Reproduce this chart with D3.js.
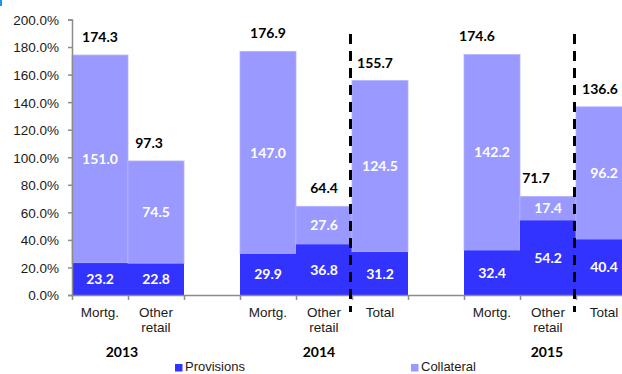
<!DOCTYPE html>
<html>
<head>
<meta charset="utf-8">
<script src="https://cdn.jsdelivr.net/npm/d3@7/dist/d3.min.js"></script>
<style>
  html, body { margin: 0; padding: 0; background: #fff; }
  svg { display: block; }
  .tick text { font-family: "Liberation Sans", Arial, sans-serif; }
</style>
</head>
<body>
<div id="chart"></div>
<script>
// ---- data ----
const slots      = ["2013-M", "2013-O", "gap1", "2014-M", "2014-O", "2014-T", "gap2", "2015-M", "2015-O", "2015-T"];
const slotYears  = ["2013", "2013", null, "2014", "2014", "2014", null, "2015", "2015", "2015"];
const categories = ["Mortg.", "Other\nretail", "", "Mortg.", "Other\nretail", "Total", "", "Mortg.", "Other\nretail", "Total"];
const provisions = [23.2, 22.8, null, 29.9, 36.8, 31.2, null, 32.4, 54.2, 40.4];
const collateral = [151.0, 74.5, null, 147.0, 27.6, 124.5, null, 142.2, 17.4, 96.2];
const totals     = [174.3, 97.3, null, 176.9, 64.4, 155.7, null, 174.6, 71.7, 136.6];
const years      = ["2013", "2014", "2015"];
const yTicks     = [0, 20, 40, 60, 80, 100, 120, 140, 160, 180, 200];
const seriesNames = ["Provisions", "Collateral"];
const dividers   = ["2014-T", "2015-T"]; // a dashed separator sits left of these

// ---- layout ----
const W = 622, H = 374;
const colors = { Provisions: "#3333FF", Collateral: "#9999FF" };
const totalNudge = { "2013-O": -7, "2014-T": -5, "2015-M": -15, "2015-O": -12, "2015-T": -4 };
const yearNudge  = { "2013": -6, "2014": -5, "2015": -1 };
const labelFont  = "Lato, 'Open Sans', sans-serif";
const axisFont   = "'Liberation Sans', Arial, sans-serif";

const svg = d3.select("#chart").append("svg")
  .attr("width", W).attr("height", H);

const x = d3.scaleBand().domain(slots).range([72, 632]).padding(0);
const y = d3.scaleLinear().domain([0, 200]).range([295, 19.5]);
const xEdges = d3.scaleLinear().domain([0, slots.length]).range([72, 632]);

// small blue corner mark
svg.append("rect").attr("x", 0).attr("y", 0).attr("width", 2).attr("height", 6).attr("fill", "#1199EE");

const rows = slots.map((s, i) => ({
  slot: s, year: slotYears[i], cat: categories[i],
  prov: provisions[i], coll: collateral[i], total: totals[i]
})).filter(d => d.prov != null);

// stacked bars
const g = svg.append("g");
rows.forEach(d => {
  const x0 = x(d.slot), bw = x.bandwidth();
  g.append("rect")
    .attr("x", x0).attr("width", bw)
    .attr("y", y(d.prov + d.coll)).attr("height", y(d.prov) - y(d.prov + d.coll))
    .attr("fill", colors.Collateral).attr("stroke", "#B4B4FF").attr("stroke-width", 0.8);
  g.append("rect")
    .attr("x", x0).attr("width", bw)
    .attr("y", y(d.prov)).attr("height", y(0) - y(d.prov))
    .attr("fill", colors.Provisions);
});

// y axis
const yAxis = svg.append("g")
  .attr("transform", "translate(72,0)")
  .call(d3.axisLeft(y).tickValues(yTicks).tickSize(4).tickPadding(9)
    .tickFormat(v => d3.format(".1f")(v) + "%"));
yAxis.select(".domain").attr("stroke", "#8c8c8c").attr("stroke-width", 1.5);
yAxis.selectAll(".tick line").attr("stroke", "#8c8c8c").attr("stroke-width", 1.5);
yAxis.selectAll(".tick text").attr("font-size", 13.5).attr("fill", "#1a1a1a").attr("dy", "0.36em");

// x axis (ticks at category boundaries)
const xAxis = svg.append("g")
  .attr("transform", "translate(0,295)")
  .call(d3.axisBottom(xEdges).tickValues(d3.range(0, slots.length + 1)).tickSize(5).tickSizeOuter(0).tickFormat(""));
xAxis.select(".domain").attr("stroke", "#8c8c8c").attr("stroke-width", 1.5);
xAxis.selectAll(".tick line").attr("stroke", "#8c8c8c").attr("stroke-width", 1.5);

// dashed separators
dividers.forEach(s => {
  svg.append("line")
    .attr("x1", x(s) - 1.5).attr("x2", x(s) - 1.5)
    .attr("y1", 34).attr("y2", 312)
    .attr("stroke", "#000").attr("stroke-width", 3)
    .attr("stroke-dasharray", "10,7");
});

// segment value labels
rows.forEach(d => {
  const cx = x(d.slot) + x.bandwidth() / 2;
  g.append("text")
    .attr("x", cx).attr("y", y(d.prov / 2)).attr("dy", "0.36em")
    .attr("text-anchor", "middle").attr("fill", "#fff")
    .attr("font-family", labelFont).attr("font-weight", 700).attr("font-size", 14)
    .text(d3.format(".1f")(d.prov));
  g.append("text")
    .attr("x", cx).attr("y", y(d.prov + d.coll / 2)).attr("dy", "0.36em")
    .attr("text-anchor", "middle").attr("fill", "#fff")
    .attr("font-family", labelFont).attr("font-weight", 700).attr("font-size", 14)
    .text(d3.format(".1f")(d.coll));
  g.append("text")
    .attr("x", cx + (totalNudge[d.slot] || 0)).attr("y", y(d.prov + d.coll) - 13)
    .attr("text-anchor", "middle").attr("fill", "#000")
    .attr("font-family", labelFont).attr("font-weight", 700).attr("font-size", 14)
    .text(d3.format(".1f")(d.total));
});

// category labels
rows.forEach(d => {
  const cx = x(d.slot) + x.bandwidth() / 2;
  const t = svg.append("text")
    .attr("x", cx).attr("y", 317)
    .attr("text-anchor", "middle").attr("fill", "#1a1a1a")
    .attr("font-family", axisFont).attr("font-size", 13.5);
  d.cat.split("\n").forEach((line, i) => {
    t.append("tspan").attr("x", cx).attr("dy", i === 0 ? 0 : 15).text(line);
  });
});

// year labels, centred under each group
years.forEach(yr => {
  const ss = slots.filter((s, i) => slotYears[i] === yr);
  const cx = (x(ss[0]) + x(ss[ss.length - 1]) + x.bandwidth()) / 2 + (yearNudge[yr] || 0);
  svg.append("text")
    .attr("x", cx).attr("y", 357)
    .attr("text-anchor", "middle").attr("fill", "#000")
    .attr("font-family", labelFont).attr("font-weight", 700).attr("font-size", 14)
    .text(yr);
});

// legend
const legendX = [175, 411];
seriesNames.forEach((name, i) => {
  svg.append("rect")
    .attr("x", legendX[i]).attr("y", 364).attr("width", 7.5).attr("height", 7.5)
    .attr("fill", colors[name]);
  svg.append("text")
    .attr("x", legendX[i] + 10).attr("y", 371)
    .attr("fill", "#1a1a1a").attr("font-family", axisFont).attr("font-size", 13)
    .text(name);
});
</script>
</body>
</html>
